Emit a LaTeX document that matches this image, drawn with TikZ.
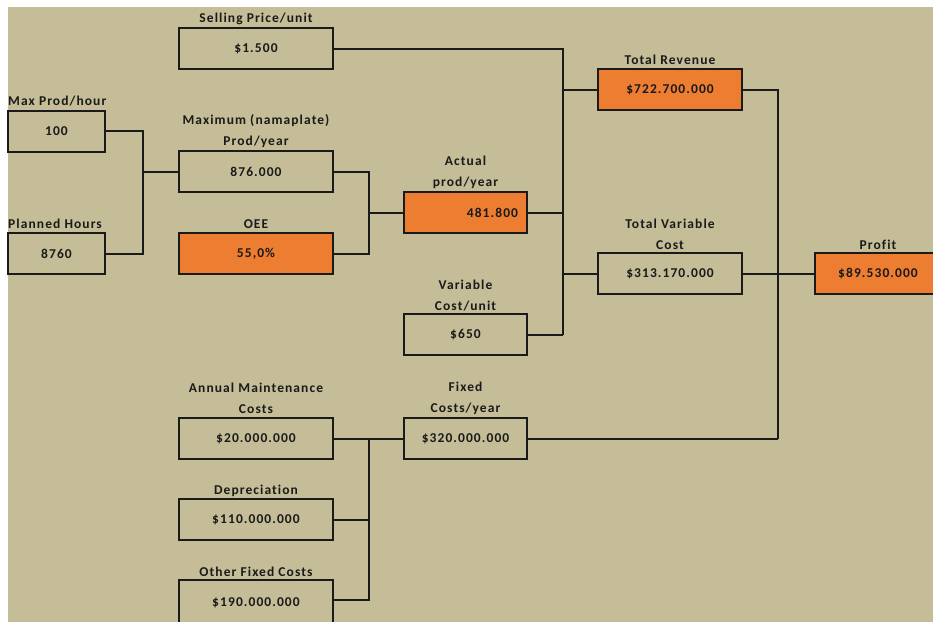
\documentclass[tikz,border=0pt]{standalone}
\usepackage{fontspec}
\setmainfont{Carlito}[LetterSpace=8,Ligatures=NoCommon]
\definecolor{tanbg}{HTML}{C4BD97}
\definecolor{orng}{HTML}{ED7D31}
\definecolor{ink}{HTML}{1A1A1A}
\tikzset{
  box/.style={draw=ink, line width=2pt, minimum height=41pt, inner sep=0pt, font=\bfseries\fontsize{13.5}{21}\selectfont, text=ink},
  hot/.style={box, fill=orng},
  lbl/.style={font=\bfseries\fontsize{13.5}{21}\selectfont, text=ink, inner sep=0pt, align=center},
  wire/.style={draw=ink, line width=2pt, line join=miter},
}
\begin{document}
\begin{tikzpicture}[x=1pt,y=-1pt]
\useasboundingbox (0,0) rectangle (933,621);
\clip (0,0) rectangle (933,621);
\fill[white] (0,0) rectangle (933,621);
\fill[tanbg] (8,7) rectangle (940,630);

% boxes
\node[box, minimum width=154pt] (sp) at (256,48.5) {\$1.500};
\node[box, minimum width=97pt] (mph) at (56.5,131) {100};
\node[box, minimum width=154pt] (mpy) at (256,171.5) {876.000};
\node[box, minimum width=97pt] (ph) at (56.5,253.5) {8760};
\node[hot, minimum width=154pt] (oee) at (256,253.5) {55,0\%};
\node[hot, minimum width=123pt, text width=105pt, align=right] (act) at (465.5,212.5) {481.800};
\node[box, minimum width=123pt] (vc) at (465.5,334.5) {\$650};
\node[hot, minimum width=144pt] (tr) at (670,89.5) {\$722.700.000};
\node[box, minimum width=144pt] (tvc) at (670,273.5) {\$313.170.000};
\node[hot, minimum width=126pt] (pr) at (878,273.5) {\$89.530.000};
\node[box, minimum width=154pt] (am) at (256,438.5) {\$20.000.000};
\node[box, minimum width=154pt] (dep) at (256,519.5) {\$110.000.000};
\node[box, minimum width=154pt, minimum height=46pt] (oth) at (256,603) {\$190.000.000};
\node[box, minimum width=123pt] (fc) at (465.5,438.5) {\$320.000.000};

% labels
\node[lbl] (lsp) at (256,19) {Selling Price/unit};
\node[lbl, anchor=west] (lmph) at (8,101) {Max Prod/hour};
\node[lbl] (lmpy) at (256,131.5) {Maximum (namaplate)\\Prod/year};
\node[lbl, anchor=west] (lph) at (8,224) {Planned Hours};
\node[lbl] (loee) at (256,224) {OEE};
\node[lbl] (lact) at (465.5,172) {Actual\\prod/year};
\node[lbl] (lvc) at (465.5,295.5) {Variable\\Cost/unit};
\node[lbl] (ltr) at (670,60) {Total Revenue};
\node[lbl] (ltvc) at (670,234.5) {Total Variable\\Cost};
\node[lbl] (lpr) at (878,245) {Profit};
\node[lbl] (lam) at (256,398) {Annual Maintenance\\Costs};
\node[lbl] (ldep) at (256,491) {Depreciation};
\node[lbl] (loth) at (256,572) {Other Fixed Costs};
\node[lbl] (lfc) at (465.5,398) {Fixed\\Costs/year};

% junctions
\coordinate (j1) at (143,171.5);
\coordinate (j2) at (369,212.5);
\coordinate (j3) at (563,334.5);
\coordinate (j4) at (778,438.5);
\coordinate (j5) at (369,438.5);

% connectors
\draw[wire] (mph.east) -| (j1);
\draw[wire] (ph.east) -| (j1);
\draw[wire] (j1) -- (mpy.west);
\draw[wire] (mpy.east) -| (j2);
\draw[wire] (oee.east) -| (j2);
\draw[wire] (j2) -- (act.west);
\draw[wire] (sp.east) -| (j3);
\draw[wire] (vc.east) -- (j3);
\draw[wire] (act.east) -- (act.east -| j3);
\draw[wire] (tr.west) -- (tr.west -| j3);
\draw[wire] (tvc.west) -- (tvc.west -| j3);
\draw[wire] (tr.east) -| (j4);
\draw[wire] (fc.east) -- (j4);
\draw[wire] (tvc.east) -- (pr.west);
\draw[wire] (oth.east |- 600,600) -| (j5);
\draw[wire] (dep.east) -- (dep.east -| j5);
\draw[wire] (am.east) -- (fc.west);
\end{tikzpicture}
\end{document}
